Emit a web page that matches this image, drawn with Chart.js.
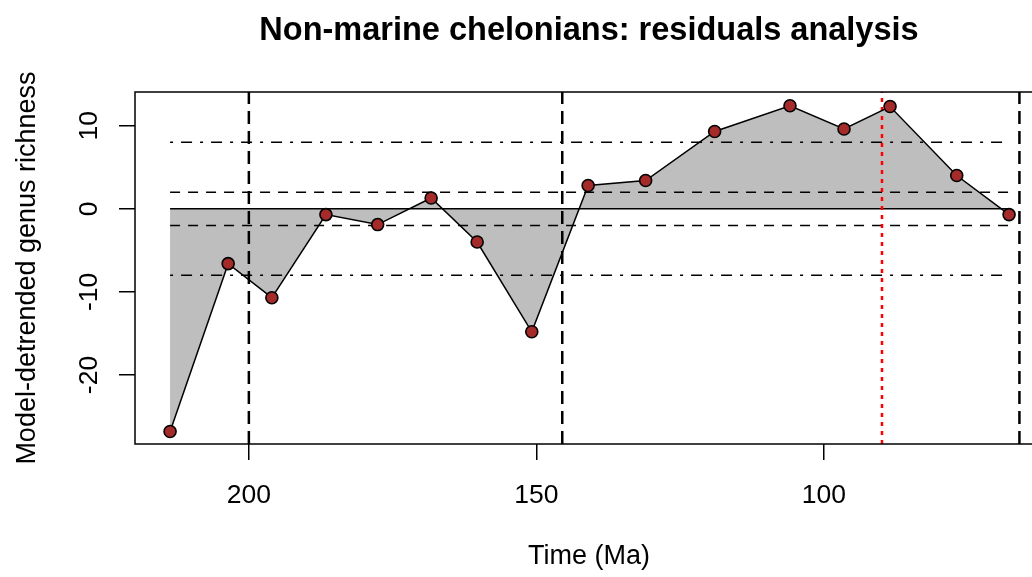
<!DOCTYPE html>
<html>
<head>
<meta charset="utf-8">
<script src="https://cdn.jsdelivr.net/npm/chart.js@4/dist/chart.umd.min.js"></script>
<style>
body { margin: 0; overflow: hidden; background: #fff; }
</style>
</head>
<body>
<canvas id="grafico" width="1060" height="577"></canvas>
<script>
// idades (Ma) e residuos
const idades = [213.7, 203.6, 196.0, 186.6, 177.6, 168.3, 160.3, 150.8, 141.0, 131.0, 119.0, 105.9, 96.5, 88.5, 76.9, 67.8];
const residuos = [-26.8, -6.6, -10.7, -0.7, -1.9, 1.3, -4.0, -14.8, 2.8, 3.4, 9.3, 12.4, 9.6, 12.3, 4.0, -0.7];

const limites = [200, 145.5, 66];
const limiteVermelho = [89.9];
const faixaTracejada = [2, -2];
const faixaPontoTraco = [8, -8];

const ticksX = [200, 150, 100];
const ticksY = [10, 0, -10, -20];

const xMin = 219.8, xMax = 61.9;
const yMin = -28.3, yMax = 14.05;

const fonte = '"Liberation Sans", Arial, sans-serif';
Chart.defaults.font.family = fonte;
Chart.defaults.color = '#000';

const ctx = document.getElementById('grafico').getContext('2d');

const pontos = idades.map((x, i) => ({ x: x, y: residuos[i] }));
const xIni = idades[0];
const xFim = idades[idades.length - 1];

function horizontal(v, dash, largura) {
    return {
        data: [{ x: xIni, y: v }, { x: xFim, y: v }],
        borderColor: '#000',
        borderWidth: largura,
        borderDash: dash,
        pointRadius: 0,
        fill: false,
        order: 5
    };
}

function vertical(v, cor, dash, largura) {
    return {
        data: [{ x: v, y: yMin }, { x: v, y: yMax }],
        borderColor: cor,
        borderWidth: largura,
        borderDash: dash,
        pointRadius: 0,
        fill: false,
        order: 4
    };
}

const datasets = [
    {
        data: pontos,
        borderWidth: 0,
        borderColor: 'rgba(0,0,0,0)',
        backgroundColor: '#BEBEBE',
        pointRadius: 0,
        fill: { value: 0 },
        order: 10
    },
    horizontal(0, [], 1.5),
    ...faixaTracejada.map(v => horizontal(v, [10, 8], 1.5)),
    ...faixaPontoTraco.map(v => horizontal(v, [3, 8, 11, 8], 1.5)),
    ...limites.map(v => vertical(v, '#000', [13, 7], 2.5)),
    ...limiteVermelho.map(v => vertical(v, '#FF0000', [4, 5], 2.5)),
    {
        data: pontos,
        borderColor: '#000',
        borderWidth: 1.5,
        pointRadius: 6,
        pointBackgroundColor: '#A52A2A',
        pointBorderColor: '#000',
        pointBorderWidth: 1.6,
        fill: false,
        order: 1
    }
];

const moldura = {
    id: 'moldura',
    afterDraw(chart) {
        const c = chart.ctx;
        const a = chart.chartArea;
        const y = chart.scales.y;
        c.save();
        c.strokeStyle = '#000';
        c.lineWidth = 1.5;
        c.strokeRect(a.left, a.top, a.right - a.left, a.bottom - a.top);
        c.font = '26.5px ' + fonte;
        c.fillStyle = '#000';
        c.textAlign = 'center';
        c.textBaseline = 'middle';
        ticksY.forEach(v => {
            c.save();
            c.translate(a.left - 45, y.getPixelForValue(v));
            c.rotate(-Math.PI / 2);
            c.fillText(String(v), 0, 0);
            c.restore();
        });
        c.restore();
    }
};

new Chart(ctx, {
    type: 'line',
    data: { datasets: datasets },
    plugins: [moldura],
    options: {
        responsive: false,
        animation: false,
        devicePixelRatio: 1,
        layout: { padding: { left: 0, right: 17, top: 0, bottom: 0 } },
        scales: {
            x: {
                type: 'linear',
                reverse: true,
                min: xMin,
                max: xMax,
                afterBuildTicks: s => { s.ticks = ticksX.map(v => ({ value: v })); },
                afterFit: s => { s.height = 133; },
                grid: { drawOnChartArea: false, drawTicks: true, tickLength: 16, color: '#000', lineWidth: 1.5 },
                border: { display: false },
                ticks: { color: '#000', font: { size: 26.5 }, padding: 20, maxRotation: 0, autoSkip: false },
                title: { display: true, text: 'Time (Ma)', color: '#000', font: { size: 27 }, padding: { top: 0, bottom: 4 } }
            },
            y: {
                type: 'linear',
                min: yMin,
                max: yMax,
                afterBuildTicks: s => { s.ticks = ticksY.map(v => ({ value: v })); },
                afterFit: s => { s.width = 135; },
                grid: { drawOnChartArea: false, drawTicks: true, tickLength: 16, color: '#000', lineWidth: 1.5 },
                border: { display: false },
                ticks: { display: false },
                title: { display: true, text: 'Model-detrended genus richness', color: '#000', font: { size: 27 }, padding: { top: 11, bottom: 0 } }
            }
        },
        plugins: {
            legend: { display: false },
            tooltip: { enabled: false },
            title: {
                display: true,
                fullSize: false,
                text: 'Non-marine chelonians: residuals analysis',
                color: '#000',
                font: { size: 32.5, weight: 'bold' },
                padding: { top: 12, bottom: 41 }
            }
        }
    }
});
</script>
</body>
</html>
